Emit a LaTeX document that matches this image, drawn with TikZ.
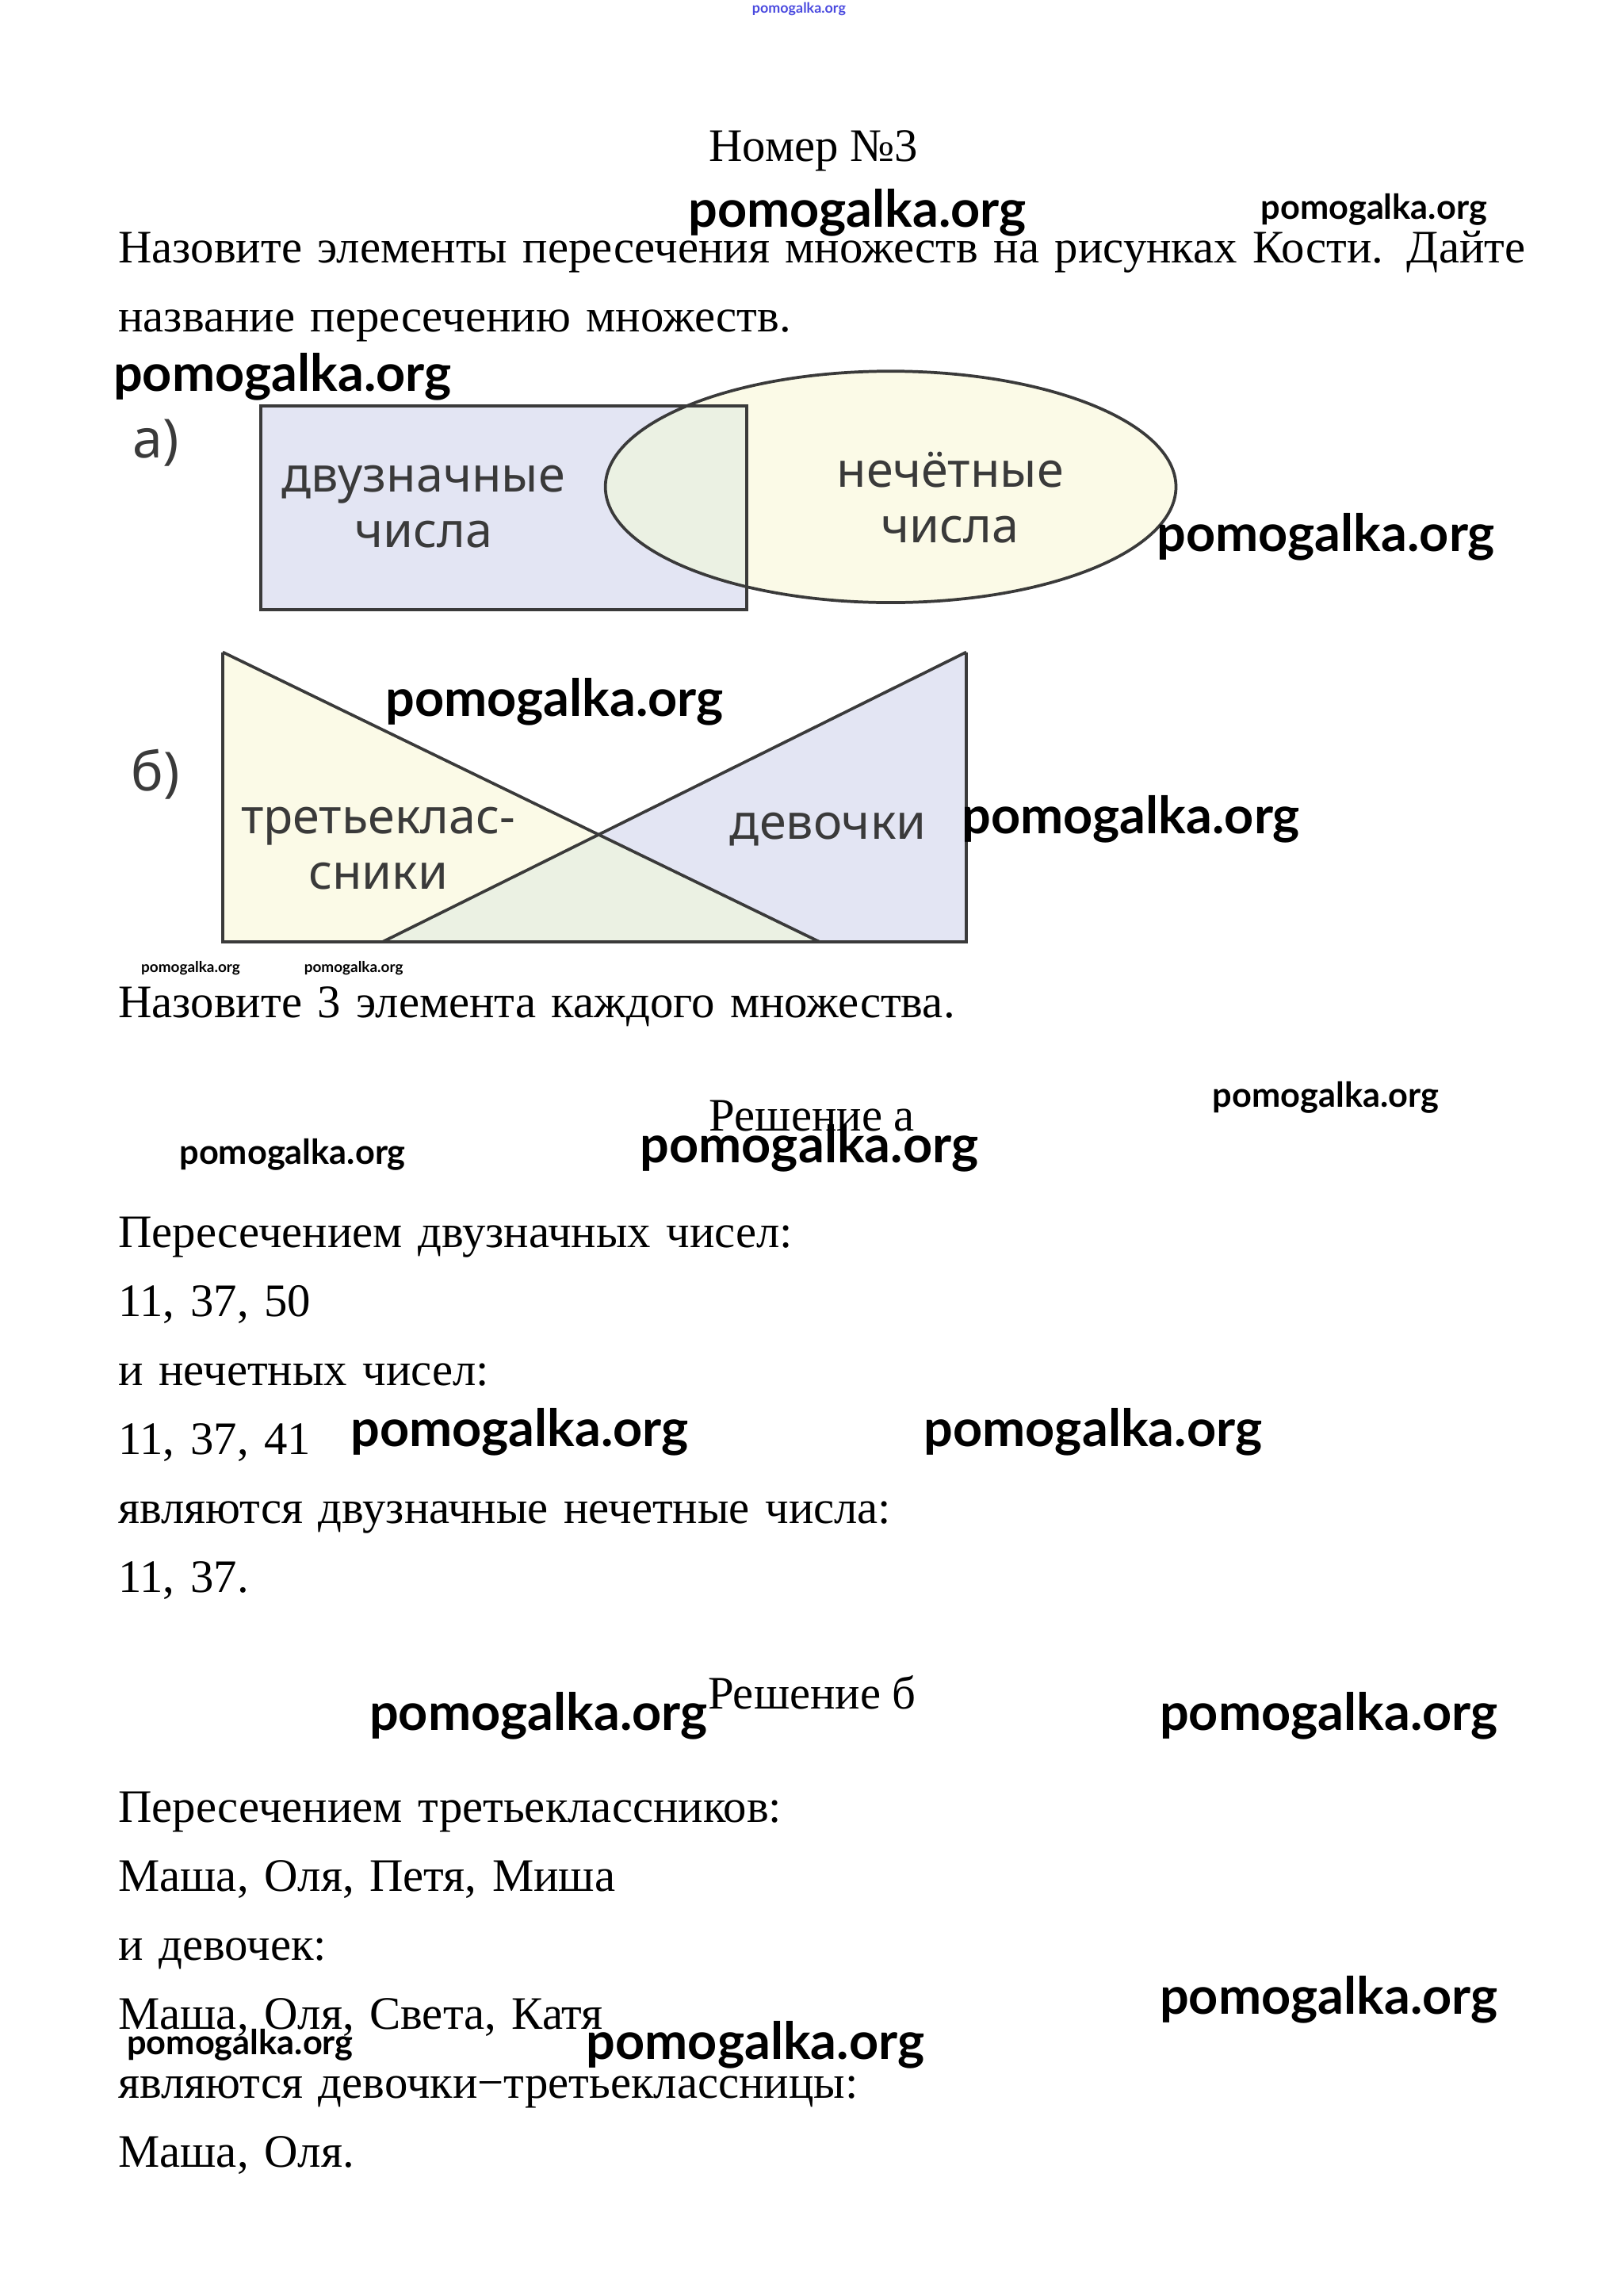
\documentclass[tikz,border=0pt]{standalone}
\usepackage{fontspec}
\usepackage{graphicx}
\setmainfont{Liberation Serif}
\newfontfamily\wmfont{Lato}
\newfontfamily\setfont{Noto Sans}
\usepackage{tikz}

\definecolor{lavender}{HTML}{E3E5F3}
\definecolor{cream}{HTML}{FBFAE7}
\definecolor{mint}{HTML}{EBF1E3}
\definecolor{inkgray}{HTML}{3A3A3A}
\definecolor{wmblue}{HTML}{4A4ADF}

\newcommand\wm[1]{\resizebox{#1}{!}{pomogalka.org}}

\begin{document}
\begin{tikzpicture}[x=0.019cm, y=-0.019cm, node distance=0.9cm,
  textline/.style={font=\fontsize{17.3}{20}\selectfont, inner sep=0pt,
    text width=19.5cm, align=left, text height=13pt, text depth=4.5pt},
  heading/.style={font=\fontsize{17.3}{20}\selectfont, inner sep=0pt, anchor=base},
  setlabel/.style={font=\setfont\fontsize{18}{20.5}\selectfont, text=inkgray,
    align=center, inner sep=0pt},
  partlabel/.style={font=\setfont\fontsize{20}{22}\selectfont, text=inkgray, inner sep=0pt},
  wmark/.style={font=\wmfont\bfseries, inner sep=0pt},
  outline/.style={draw=inkgray, line width=1.1pt}]
\useasboundingbox (0,0) rectangle (1103.5,1577.4);

% title and task
\node (title) [heading] at (559,111) {Номер №3};
\node (task1) [textline, anchor=west] at (81,172.7) {Назовите элементы пересечения множеств на рисунках Кости. Дайте};
\node (task2) [textline, below of=task1] {название пересечению множеств.};

% picture a)
\node (parta) [partlabel] at (107,304) {а)};
\fill [lavender] (179,279) rectangle (513,419);
\fill [cream] (612,334.5) ellipse [x radius=3.724cm, y radius=1.51cm];
\begin{scope}
  \clip (179,279) rectangle (513,419);
  \fill [mint] (612,334.5) ellipse [x radius=3.724cm, y radius=1.51cm];
\end{scope}
\draw [outline] (179,279) rectangle (513,419);
\draw [outline] (612,334.5) ellipse [x radius=3.724cm, y radius=1.51cm];
\node (twodigit) [setlabel] at (291,348) {двузначные\\числа};
\node (odd) [setlabel] at (653,342) {нечётные\\числа};

% picture b)
\node (partb) [partlabel] at (107,532) {б)};
\coordinate (tl) at (153,448);
\coordinate (bl) at (153,647);
\coordinate (lend) at (563,647);
\coordinate (tr) at (664,448);
\coordinate (br) at (664,647);
\coordinate (rend) at (263,647);
\coordinate (cross) at (411,573);
\fill [cream] (tl) -- (bl) -- (lend) -- cycle;
\fill [lavender] (tr) -- (br) -- (rend) -- cycle;
\fill [mint] (rend) -- (cross) -- (lend) -- cycle;
\draw [outline] (tl) -- (bl) -- (br) -- (tr);
\draw [outline] (tl) -- (lend);
\draw [outline] (tr) -- (rend);
\node (pupils) [setlabel] at (260,583) {третьеклас-\\сники};
\node (girls) [setlabel] at (569,570) {девочки};

\node (task3) [textline, anchor=west] at (81,691.1) {Назовите 3 элемента каждого множества.};

% solution a
\node (sola) [heading] at (558,777) {Решение а};
\node (a1) [textline, anchor=west] at (81,849.1) {Пересечением двузначных чисел:};
\node (a2) [textline, below of=a1] {11, 37, 50};
\node (a3) [textline, below of=a2] {и нечетных чисел:};
\node (a4) [textline, below of=a3] {11, 37, 41};
\node (a5) [textline, below of=a4] {являются двузначные нечетные числа:};
\node (a6) [textline, below of=a5] {11, 37.};

% solution b
\node (solb) [heading] at (558,1174) {Решение б};
\node (b1) [textline, anchor=west] at (81,1244.1) {Пересечением третьеклассников:};
\node (b2) [textline, below of=b1] {Маша, Оля, Петя, Миша};
\node (b3) [textline, below of=b2] {и девочек:};
\node (b4) [textline, below of=b3] {Маша, Оля, Света, Катя};
\node (b5) [textline, below of=b4] {являются девочки−третьеклассницы:};
\node (b6) [textline, below of=b5] {Маша, Оля.};

% watermarks
\node (wm0) [wmark, text=wmblue] at (549,6) {\wm{1.22cm}};
\node (wm1) [wmark] at (589,146) {\wm{4.41cm}};
\node (wm2) [wmark] at (944,144) {\wm{2.95cm}};
\node (wm3) [wmark] at (194,259) {\wm{4.41cm}};
\node (wm4) [wmark] at (911,369) {\wm{4.41cm}};
\node (wm5) [wmark] at (381,482) {\wm{4.41cm}};
\node (wm6) [wmark] at (777,563) {\wm{4.41cm}};
\node (wm7) [wmark] at (131,665) {\wm{1.29cm}};
\node (wm8) [wmark] at (243,665) {\wm{1.29cm}};
\node (wm9) [wmark] at (911,754) {\wm{2.95cm}};
\node (wm10) [wmark] at (201,793) {\wm{2.95cm}};
\node (wm11) [wmark] at (556,789) {\wm{4.41cm}};
\node (wm12) [wmark] at (357,984) {\wm{4.41cm}};
\node (wm13) [wmark] at (751,984) {\wm{4.41cm}};
\node (wm14) [wmark] at (370,1179) {\wm{4.41cm}};
\node (wm15) [wmark] at (913,1179) {\wm{4.41cm}};
\node (wm16) [wmark] at (913,1374) {\wm{4.41cm}};
\node (wm17) [wmark] at (165,1405) {\wm{2.95cm}};
\node (wm18) [wmark] at (519,1405) {\wm{4.41cm}};
\end{tikzpicture}
\end{document}
